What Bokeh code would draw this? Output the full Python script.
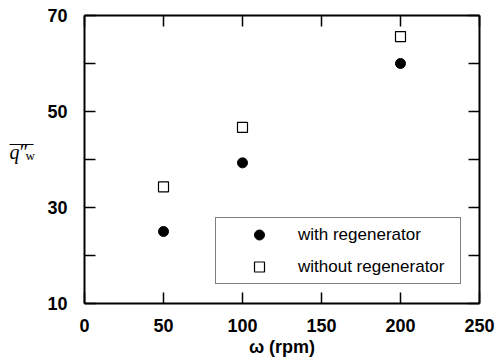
from bokeh.plotting import figure
from bokeh.layouts import row
from bokeh.models import (FixedTicker, LinearAxis, Label, Legend, LegendItem,
                          Range1d)
from bokeh.embed import file_html
from bokeh.resources import INLINE

# ---- data ----
omega = [50, 100, 200]
with_regen = [25.0, 39.3, 60.0]
without_regen = [34.3, 46.7, 65.6]
x_ticks = [0, 50, 100, 150, 200, 250]
y_major = [10, 30, 50, 70]
y_minor = [20, 40, 60]

FONT = "Liberation Sans"
LEFT_W = 44

p = figure(width=496 - LEFT_W, height=360, output_backend="svg", toolbar_location=None,
           x_range=Range1d(0, 250), y_range=Range1d(10, 70),
           x_axis_location=None, y_axis_location=None,
           min_border_left=84 - LEFT_W, min_border_right=17,
           min_border_top=15, min_border_bottom=57)
p.outline_line_color = None
p.grid.visible = False
p.background_fill_color = "white"
p.border_fill_color = "white"


def style_axis(ax, labels=True):
    ax.axis_line_width = 2
    ax.axis_line_color = "black"
    ax.major_tick_in = 11
    ax.major_tick_out = 0
    ax.minor_tick_in = 11
    ax.minor_tick_out = 0
    ax.major_tick_line_width = 1.5
    ax.minor_tick_line_width = 1.5
    ax.major_label_text_font = FONT
    ax.major_label_text_font_style = "bold"
    ax.major_label_text_font_size = "18px"
    ax.major_label_text_color = "black"
    if not labels:
        ax.major_label_text_alpha = 0
        ax.major_label_text_font_size = "1px"
        ax.major_label_standoff = 0


xt = FixedTicker(ticks=x_ticks, minor_ticks=[])
yt = FixedTicker(ticks=y_major, minor_ticks=y_minor)

xb = LinearAxis(ticker=xt, axis_label="ω (rpm)")
style_axis(xb)
xb.major_label_standoff = 15
xb.axis_label_standoff = 2
xb.axis_label_text_font = FONT
xb.axis_label_text_font_style = "bold"
xb.axis_label_text_font_size = "18px"
xb.axis_label_text_color = "black"
p.add_layout(xb, "below")

xtop = LinearAxis(ticker=xt)
style_axis(xtop, labels=False)
p.add_layout(xtop, "above")

yl = LinearAxis(ticker=yt)
style_axis(yl)
yl.major_label_standoff = 17
p.add_layout(yl, "left")

yr = LinearAxis(ticker=yt)
style_axis(yr, labels=False)
p.add_layout(yr, "right")

r1 = p.scatter(omega, with_regen, marker="circle", size=10,
               fill_color="black", line_color="black")
r2 = p.scatter(omega, without_regen, marker="square", size=10,
               fill_color="white", line_color="black", line_width=1.2)

legend = Legend(items=[LegendItem(label="with regenerator", renderers=[r1]),
                       LegendItem(label="without regenerator", renderers=[r2])],
                location=(131, 19))
legend.padding = 4
legend.spacing = 7
legend.glyph_width = 78
legend.glyph_height = 25
legend.label_height = 25
legend.label_standoff = 0
legend.label_width = 158
legend.label_text_font = FONT
legend.label_text_font_size = "17px"
legend.label_text_color = "black"
legend.border_line_color = "black"
legend.border_line_width = 1
legend.background_fill_alpha = 1
legend.margin = 0
p.add_layout(legend, "center")

# narrow side panel holding the y-axis label: overline q'' with subscript w
side = figure(width=LEFT_W, height=360, output_backend="svg", toolbar_location=None,
              title=None,
              x_range=Range1d(0, LEFT_W), y_range=Range1d(0, 360),
              x_axis_location=None, y_axis_location=None,
              min_border_left=0, min_border_right=0,
              min_border_top=0, min_border_bottom=0)
side.outline_line_color = None
side.grid.visible = False
side.border_fill_color = "white"
side.background_fill_color = "white"
side.add_layout(Label(x=9, y=190, text="q", text_font="Liberation Serif",
                      text_font_style="italic", text_font_size="20px",
                      text_color="black", text_baseline="alphabetic"))
side.add_layout(Label(x=18, y=190, text="″", text_font="Liberation Serif",
                      text_font_style="italic", text_font_size="20px",
                      text_color="black", text_baseline="alphabetic"))
side.add_layout(Label(x=25, y=184.5, text="w", text_font="Liberation Serif",
                      text_font_size="13px", text_color="black",
                      text_baseline="alphabetic"))
side.add_layout(Label(x=9, y=199, text="——", text_font="Liberation Sans",
                      text_font_size="12px", text_color="black",
                      text_baseline="alphabetic"))

layout = row(side, p)
open("out.html", "w").write(file_html(layout, INLINE))
